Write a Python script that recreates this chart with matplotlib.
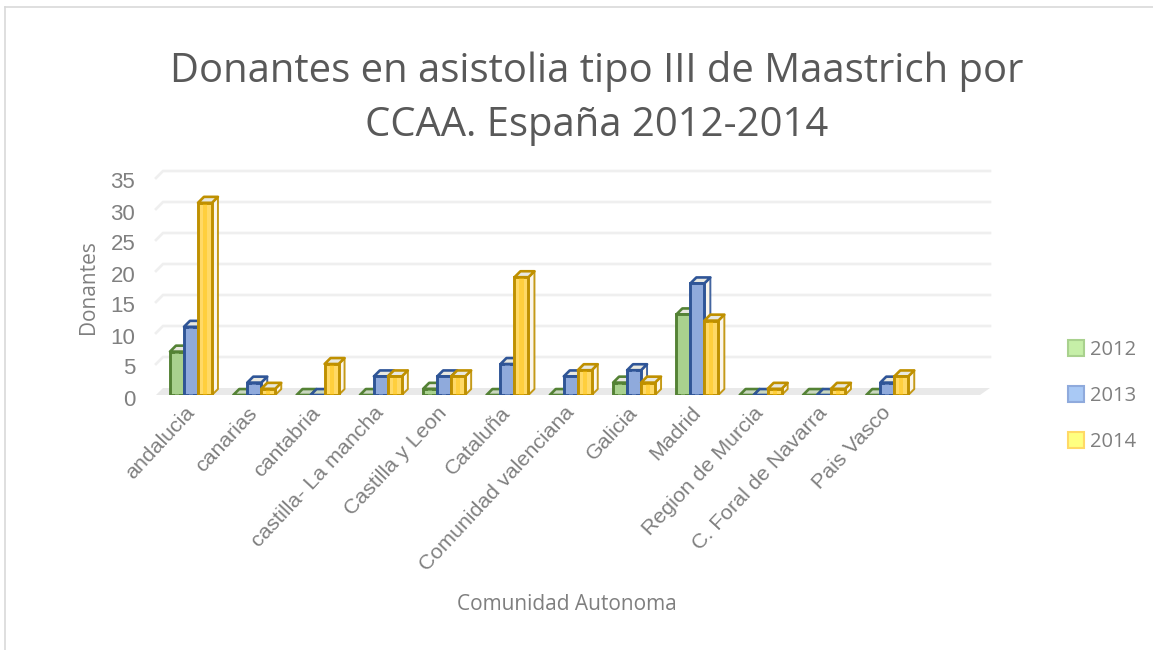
import matplotlib
matplotlib.use("Agg")
import matplotlib.pyplot as plt
from matplotlib.patches import Polygon, Patch
from matplotlib.transforms import ScaledTranslation
import numpy as np

categories = ["andalucia", "canarias", "cantabria", "castilla- La mancha", "Castilla y Leon",
              "Cataluña", "Comunidad valenciana", "Galicia", "Madrid", "Region de Murcia",
              "C. Foral de Navarra", "Pais Vasco"]
y2012 = [7, 0, 0, 0, 1, 0, 0, 2, 13, 0, 0, 0]
y2013 = [11, 2, 0, 3, 3, 5, 3, 4, 18, 0, 0, 2]
y2014 = [31, 1, 5, 3, 3, 19, 4, 2, 12, 1, 1, 3]
years = ["2012", "2013", "2014"]
yticks = [0, 5, 10, 15, 20, 25, 30, 35]

W, H = 1153, 650
fig = plt.figure(figsize=(W / 100, H / 100), dpi=100)
fig.patch.set_facecolor("white")
L, R, B, T = 156, 990, 395, 172
ax = fig.add_axes([L / W, 1 - B / H, (R - L) / W, (B - T) / H])
CAT, UNIT = 63.3, 6.2
C0 = 188
ax.set_xlim((L - C0) / CAT, (R - C0) / CAT)
ax.set_ylim(0, (B - T) / UNIT)
ax.patch.set_alpha(0)
for s in ax.spines.values():
    s.set_visible(False)
DX, DY = 7 / CAT, 7 / UNIT
x_end = (R - C0) / CAT
x_start = (L - C0) / CAT
front_end = x_end - 10 / CAT
GRID = "#efefef"
ax.add_patch(Polygon([(x_start, 0), (front_end, 0), (x_end, DY), (x_start + DX, DY)],
                     fc="#e9e9e9", ec="none", zorder=0.5))
for v in yticks[1:]:
    ax.plot([x_start, x_start + DX, x_end], [v, v + DY, v + DY], color=GRID, lw=1.9, zorder=0.6,
            clip_on=False, solid_joinstyle="miter")

width = 14 / CAT
styles = [("#a9d18e", "#a9d18e", "#548235"), ("#8faadc", "#8faadc", "#2f5597"), ("#ffd966", "#ffc000", "#bf9000")]
series = [y2012, y2013, y2014]
for k, (vals, (fc, mid, ec)) in enumerate(zip(series, styles)):
    for i, v in enumerate(vals):
        x0 = i + (k - 1.5) * width + 3 / CAT
        x1 = x0 + width
        z = 2 + k + i * 0.01
        if v > 0:
            ax.add_patch(Polygon([(x1, 0), (x1 + DX * .85, DY * .85), (x1 + DX * .85, v + DY * .85), (x1, v)],
                                 fc="#fbf6ea", ec=ec, lw=1.4, alpha=.9, zorder=z, joinstyle="round"))
        ax.add_patch(Polygon([(x0, v), (x1, v), (x1 + DX * .85, v + DY * .85), (x0 + DX * .85, v + DY * .85)],
                             fc="#e8e8e0" if v > 0 else "#c9d6be", ec=ec, lw=1.9, zorder=z, joinstyle="round"))
        if v > 0:
            ax.bar(x0 + width / 2, v, width=width, color=fc, edgecolor=ec, linewidth=2.1, zorder=z + .1)
            ax.bar(x0 + width / 2, v - 0.2, width=width * .3, color=mid, zorder=z + .2, alpha=.4)

ax.set_xticks(range(len(categories)))
ax.set_xticklabels(categories, rotation=47, ha="right", va="top", rotation_mode="anchor",
                   family="Liberation Sans", fontsize=15.4, color="#808080")
ax.set_yticks(yticks)
ax.set_yticklabels([str(v) for v in yticks], family="Liberation Sans", fontsize=16, color="#808080")
ax.tick_params(length=0)
ax.tick_params(axis="y", pad=15)
ax.tick_params(axis="x", pad=6)
shift = ScaledTranslation(0, -2.5 / 100, fig.dpi_scale_trans)
for lab in ax.get_yticklabels():
    lab.set_transform(lab.get_transform() + shift)
xshift = ScaledTranslation(-4 / 100, 0, fig.dpi_scale_trans)
for lab in ax.get_xticklabels():
    lab.set_transform(lab.get_transform() + xshift)

fig.text(597 / W, 1 - 72 / H, "Donantes en asistolia tipo III de Maastrich por", family="Open Sans",
         fontsize=28.8, color="#595959", ha="center", va="center")
fig.text(597 / W, 1 - 126 / H, "CCAA. España 2012-2014", family="Open Sans",
         fontsize=28.8, color="#595959", ha="center", va="center")
fig.text(88 / W, 1 - 287 / H, "Donantes", family="Open Sans", fontsize=15, color="#7f7f7f",
         rotation=90, ha="center", va="center")
fig.text(567 / W, 1 - 605 / H, "Comunidad Autonoma", family="Open Sans", fontsize=15, color="#7f7f7f",
         ha="center", va="center")

handles = [Patch(fc=f, ec=e, lw=1.5) for f, e in [("#c6efa8", "#a9d18e"), ("#a9c9f5", "#8faadc"), ("#ffff80", "#ffd966")]]
fig.legend(handles, years, loc="center left", bbox_to_anchor=(1068 / W, 1 - 396 / H), frameon=False,
           handlelength=0.8, handleheight=0.8, handletextpad=0.28, labelspacing=1.3,
           prop={"family": "Open Sans", "size": 14.5}, labelcolor="#7f7f7f", borderpad=0, borderaxespad=0)

for xs, ys in [([5, 5], [7, 650]), ([5, 1153], [7, 7])]:
    fig.add_artist(plt.Line2D([x / W for x in xs], [1 - y / H for y in ys], color="#d9d9d9", lw=1.2))

fig.savefig("out.png", dpi=100)
